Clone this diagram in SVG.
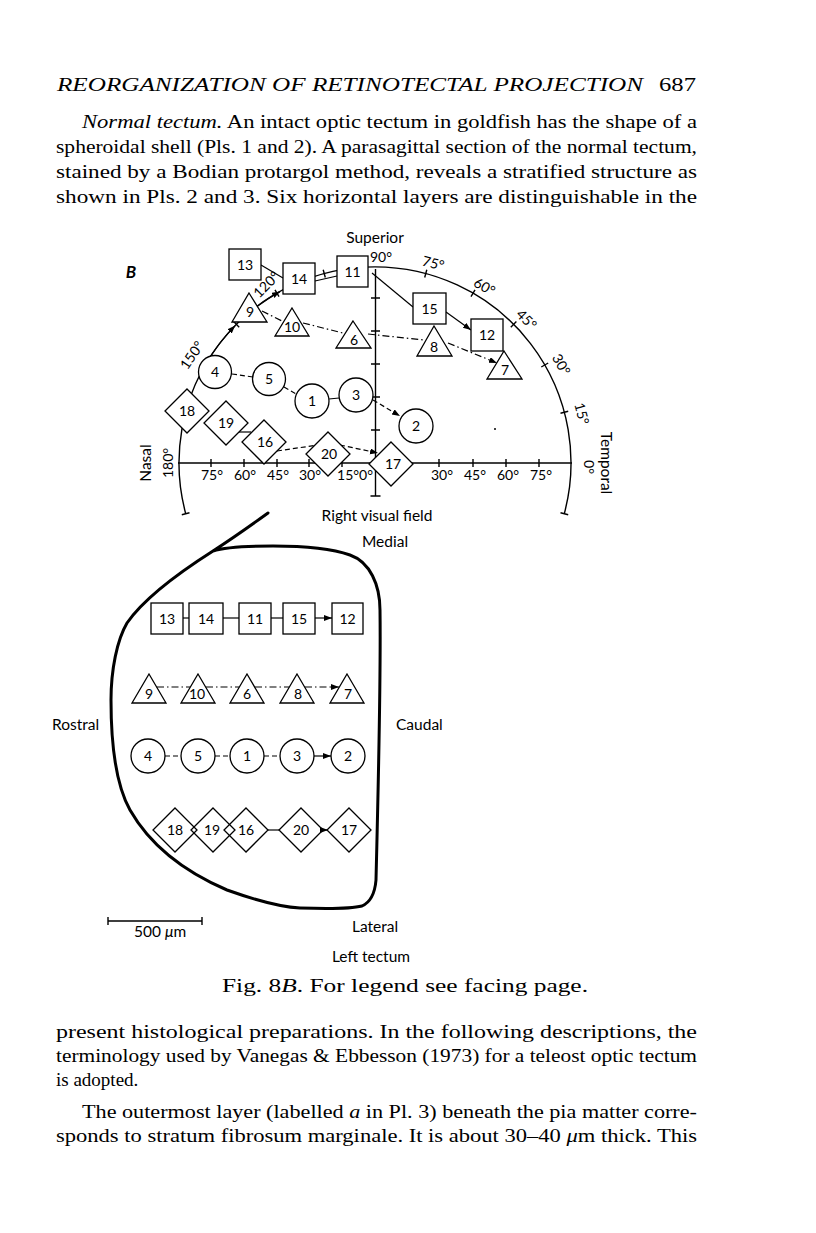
<svg xmlns="http://www.w3.org/2000/svg" width="816" height="1233" viewBox="0 0 816 1233">
<defs>
<style>
.n{fill:#fff;stroke:#000;stroke-width:1.3}
.nd{fill:none;stroke:#000;stroke-width:1.3}
.t{font-family:Lato,"DejaVu Sans",sans-serif;font-size:14px;text-anchor:middle;fill:#000}
.L{font-family:Lato,"DejaVu Sans",sans-serif;font-size:15.5px;text-anchor:middle;fill:#000}
.lb{font-family:Lato,"DejaVu Sans",sans-serif;font-size:15.5px;fill:#000}
.c{fill:none;stroke:#000;stroke-width:1.2}
.dd{stroke-dasharray:7 3 1.5 3}
.ds{stroke-dasharray:5 3}
.ax{fill:none;stroke:#000;stroke-width:1.4}
.body{font-family:"Liberation Serif","Times New Roman",serif;font-size:19px;fill:#000}
</style>
<marker id="ah" markerUnits="userSpaceOnUse" markerWidth="9" markerHeight="7" refX="8" refY="3" orient="auto">
<path d="M0,0 L8,3 L0,6 z" fill="#000"/>
</marker>
</defs>
<rect width="816" height="1233" fill="#fff"/>

<!-- page text -->
<g id="page-text">
<text class="body" x="57" y="91" font-style="italic" font-size="18" textLength="586" lengthAdjust="spacingAndGlyphs">REORGANIZATION OF RETINOTECTAL PROJECTION</text>
<text class="body" x="659" y="91" font-size="18" textLength="37" lengthAdjust="spacingAndGlyphs">687</text>
<text class="body" x="82" y="128" textLength="615" lengthAdjust="spacingAndGlyphs"><tspan font-style="italic">Normal tectum.</tspan> An intact optic tectum in goldfish has the shape of a</text>
<text class="body" x="56" y="153" textLength="641" lengthAdjust="spacingAndGlyphs">spheroidal shell (Pls. 1 and 2). A parasagittal section of the normal tectum,</text>
<text class="body" x="56" y="178" textLength="641" lengthAdjust="spacingAndGlyphs">stained by a Bodian protargol method, reveals a stratified structure as</text>
<text class="body" x="56" y="203" textLength="641" lengthAdjust="spacingAndGlyphs">shown in Pls. 2 and 3. Six horizontal layers are distinguishable in the</text>
<text class="body" x="222" y="992" font-size="16" textLength="366" lengthAdjust="spacingAndGlyphs">Fig. 8<tspan font-style="italic">B</tspan>. For legend see facing page.</text>
<text class="body" x="56" y="1038" textLength="641" lengthAdjust="spacingAndGlyphs">present histological preparations. In the following descriptions, the</text>
<text class="body" x="56" y="1062" textLength="641" lengthAdjust="spacingAndGlyphs">terminology used by Vanegas &amp; Ebbesson (1973) for a teleost optic tectum</text>
<text class="body" x="56" y="1086">is adopted.</text>
<text class="body" x="82" y="1118" textLength="615" lengthAdjust="spacingAndGlyphs">The outermost layer (labelled <tspan font-style="italic">a</tspan> in Pl. 3) beneath the pia matter corre-</text>
<text class="body" x="56" y="1142" textLength="641" lengthAdjust="spacingAndGlyphs">sponds to stratum fibrosum marginale. It is about 30–40 <tspan font-style="italic">μ</tspan>m thick. This</text>
</g>

<!-- visual field frame -->
<g id="visual-field-frame">
<text x="131" y="278" font-family="Lato,'DejaVu Sans',sans-serif" font-size="17" font-weight="bold" font-style="italic" text-anchor="middle">B</text>
<path class="ax" d="M185.7 513.7 A196 196 0 1 1 564.3 513.7"/>
<path class="ax" d="M560.5 413.3L568.2 411.2M541.3 367L548.2 363M510.8 327.2L516.4 321.6M471 296.7L475 289.8M424.7 277.5L426.8 269.8M325.3 277.5L323.2 269.8M279 296.7L275 289.8M239.2 327.2L233.6 321.6M208.7 367L201.8 363M189.5 413.3L181.8 411.2M189.5 512.7L181.8 514.8M560.5 512.7L568.2 514.8"/>
<line class="ax" x1="178" y1="463" x2="572" y2="463"/>
<line class="ax" x1="375.5" y1="269" x2="375.5" y2="496"/>
<path class="ax" d="M370.5 496H380.5M371 430H380M371 397H380M371 364H380M371 331H380M371 298H380M211 459V467M244 459V467M277 459V467M309 459V467M342 459V467M408 459V467M439 459V467M473 459V467M506 459V467M539 459V467"/>
<circle cx="495" cy="429" r="1" fill="#000"/>
<text class="L" x="375" y="243" font-size="15">Superior</text>
<text class="t" x="381" y="262">90°</text>
<text class="t" transform="translate(432,268) rotate(15)">75°</text>
<text class="t" transform="translate(482,291) rotate(30)">60°</text>
<text class="t" transform="translate(523,323) rotate(45)">45°</text>
<text class="t" transform="translate(557,367) rotate(60)">30°</text>
<text class="t" transform="translate(577,415) rotate(75)">15°</text>
<text class="t" transform="translate(584,467) rotate(90)">0°</text>
<text class="L" transform="translate(601,463) rotate(90)">Temporal</text>
<text class="t" transform="translate(270,288) rotate(-45)">120°</text>
<text class="t" transform="translate(196,358) rotate(-56)">150°</text>
<text class="L" transform="translate(151,463) rotate(-90)">Nasal</text>
<text class="t" transform="translate(173,463) rotate(-90)">180°</text>
<text class="t" x="212" y="480">75°</text>
<text class="t" x="245" y="480">60°</text>
<text class="t" x="278" y="480">45°</text>
<text class="t" x="310" y="480">30°</text>
<text class="t" x="355" y="480">15°0°</text>
<text class="t" x="442" y="480">30°</text>
<text class="t" x="475" y="480">45°</text>
<text class="t" x="508" y="480">60°</text>
<text class="t" x="541" y="480">75°</text>
<text class="L" x="377" y="521">Right visual field</text>
</g>

<!-- connectors -->
<g id="connectors">
<path class="c" d="M210.6 356.3 A196 196 0 0 1 235.2 325.6" marker-end="url(#ah)"/>
<path class="c" d="M257 306.5 A196 196 0 0 1 280 291.6" marker-end="url(#ah)"/>
<line class="c" x1="261" y1="265" x2="283" y2="278"/>
<line class="c" x1="315" y1="281" x2="337" y2="276"/>
<line class="c" x1="372" y1="273" x2="413" y2="307"/>
<line class="c" x1="446" y1="312" x2="471" y2="330" marker-end="url(#ah)"/>
<line class="c dd" x1="262" y1="311" x2="284" y2="322"/>
<line class="c dd" x1="303" y1="323" x2="343" y2="333"/>
<line class="c dd" x1="368" y1="334" x2="424" y2="340"/>
<line class="c dd" x1="448" y1="343" x2="497" y2="363" marker-end="url(#ah)"/>
<line class="c ds" x1="232" y1="374" x2="253" y2="377"/>
<line class="c ds" x1="284" y1="387" x2="298" y2="395"/>
<line class="c" x1="329" y1="399" x2="339" y2="398"/>
<line class="c ds" x1="373" y1="400" x2="400" y2="416" marker-end="url(#ah)"/>
<line class="c" x1="239" y1="432" x2="251" y2="432"/>
<line class="c ds" x1="277" y1="451" x2="318" y2="445"/>
<line class="c ds" x1="340" y1="445" x2="378" y2="453" marker-end="url(#ah)"/>
<!-- tectum connectors -->
<line class="c" x1="183" y1="618" x2="189" y2="618"/>
<line class="c" x1="223" y1="618" x2="239" y2="618"/>
<line class="c" x1="271" y1="618" x2="283" y2="618"/>
<line class="c" x1="315" y1="618" x2="332" y2="618" marker-end="url(#ah)"/>
<line class="c dd" x1="157" y1="687" x2="190" y2="687"/>
<line class="c dd" x1="206" y1="687" x2="239" y2="687"/>
<line class="c dd" x1="255" y1="687" x2="289" y2="687"/>
<line class="c dd" x1="305" y1="687" x2="339" y2="687" marker-end="url(#ah)"/>
<line class="c ds" x1="165" y1="756" x2="181" y2="756"/>
<line class="c ds" x1="215" y1="756" x2="230" y2="756"/>
<line class="c ds" x1="264" y1="756" x2="280" y2="756"/>
<line class="c" x1="314" y1="756" x2="331" y2="756" marker-end="url(#ah)"/>
<line class="c" x1="268" y1="830" x2="279" y2="830"/>
<line class="c" x1="321" y1="830" x2="328" y2="830" marker-end="url(#ah)"/>
</g>

<!-- visual field nodes -->
<g id="vf-13"><rect class="n" x="229" y="249" width="32" height="31"/><text class="t" x="245" y="270">13</text></g>
<g id="vf-14"><rect class="n" x="283" y="263" width="32" height="31"/><text class="t" x="299" y="284">14</text></g>
<g id="vf-11"><rect class="n" x="337" y="256" width="31" height="31"/><text class="t" x="352.5" y="277">11</text></g>
<g id="vf-15"><rect class="n" x="413" y="293" width="33" height="31"/><text class="t" x="429.5" y="314">15</text></g>
<g id="vf-12"><rect class="n" x="471" y="319" width="32" height="32"/><text class="t" x="487" y="340">12</text></g>
<g id="vf-9"><path class="n" d="M249 293L267 322H232z"/><text class="t" x="250" y="317">9</text></g>
<g id="vf-10"><path class="n" d="M292 308L309 336H275z"/><text class="t" x="292" y="332">10</text></g>
<g id="vf-6"><path class="n" d="M353 321L371 348H336z"/><text class="t" x="354" y="345">6</text></g>
<g id="vf-8"><path class="n" d="M434 326L452 356H417z"/><text class="t" x="434" y="352">8</text></g>
<g id="vf-7"><path class="n" d="M504 351L522 379H487z"/><text class="t" x="505" y="375">7</text></g>
<g id="vf-4"><circle class="n" cx="215" cy="372" r="16.5"/><text class="t" x="215" y="377">4</text></g>
<g id="vf-5"><circle class="n" cx="269" cy="379" r="16.5"/><text class="t" x="269" y="384">5</text></g>
<g id="vf-1"><circle class="n" cx="312" cy="401" r="17"/><text class="t" x="312" y="406">1</text></g>
<g id="vf-3"><circle class="n" cx="356" cy="395" r="17"/><text class="t" x="356" y="400">3</text></g>
<g id="vf-2"><circle class="n" cx="416" cy="426" r="17"/><text class="t" x="416" y="431">2</text></g>
<g id="vf-18"><path class="n" d="M187 389L209 411L187 433L165 411z"/><text class="t" x="187" y="416">18</text></g>
<g id="vf-19"><path class="n" d="M226 401L248 423L226 445L204 423z"/><text class="t" x="226" y="428">19</text></g>
<g id="vf-16"><path class="n" d="M264 420L286 442L264 464L242 442z"/><text class="t" x="265" y="447">16</text></g>
<g id="vf-20"><path class="n" d="M328 432L350 454L328 476L306 454z"/><text class="t" x="329" y="459">20</text></g>
<g id="vf-17"><path class="n" d="M391 442L413 464L391 486L369 464z"/><text class="t" x="393" y="469">17</text></g>

<!-- tectum -->
<g id="tectum-outline">
<path fill="none" stroke="#000" stroke-width="3" stroke-linecap="round" d="M268 513 C250 526 230 540 213 551 C180 572 145 597 127 623 C117 640 111 670 111 700 C111 745 116 785 130 810 C150 845 185 872 227 890 C255 900 280 907 300 908 C330 909 350 909 362 906 C371 902 375 892 376 880 C378 800 381 680 380 610 C380 585 370 562 350 555 C330 548 300 546 273 546 C250 546 225 547 213 551"/>
<text class="L" x="385" y="547">Medial</text>
<text class="lb" x="52" y="730">Rostral</text>
<text class="lb" x="396" y="730">Caudal</text>
<text class="L" x="375" y="932">Lateral</text>
<text class="L" x="371" y="962">Left tectum</text>
<path class="ax" d="M108 921H202M108 917V925M202 917V925"/>
<text class="lb" x="134" y="937">500 <tspan font-style="italic">μ</tspan>m</text>
</g>

<g id="t-13"><rect class="n" x="151" y="603" width="32" height="31"/><text class="t" x="167" y="624">13</text></g>
<g id="t-14"><rect class="n" x="189" y="603" width="34" height="31"/><text class="t" x="206" y="624">14</text></g>
<g id="t-11"><rect class="n" x="239" y="603" width="32" height="31"/><text class="t" x="255" y="624">11</text></g>
<g id="t-15"><rect class="n" x="283" y="603" width="32" height="31"/><text class="t" x="299" y="624">15</text></g>
<g id="t-12"><rect class="n" x="332" y="603" width="31" height="31"/><text class="t" x="347.5" y="624">12</text></g>
<g id="t-9"><path class="nd" d="M149 674L166 703H132z"/><text class="t" x="149" y="699">9</text></g>
<g id="t-10"><path class="nd" d="M198 674L215 703H181z"/><text class="t" x="197" y="699">10</text></g>
<g id="t-6"><path class="nd" d="M247 674L264 703H230z"/><text class="t" x="247" y="699">6</text></g>
<g id="t-8"><path class="nd" d="M297 674L314 703H280z"/><text class="t" x="298" y="699">8</text></g>
<g id="t-7"><path class="nd" d="M347 674L364 703H330z"/><text class="t" x="348" y="699">7</text></g>
<g id="t-4"><circle class="n" cx="148" cy="756" r="17"/><text class="t" x="148" y="761">4</text></g>
<g id="t-5"><circle class="n" cx="198" cy="756" r="17"/><text class="t" x="198" y="761">5</text></g>
<g id="t-1"><circle class="n" cx="247" cy="756" r="17"/><text class="t" x="247" y="761">1</text></g>
<g id="t-3"><circle class="n" cx="297" cy="756" r="17"/><text class="t" x="297" y="761">3</text></g>
<g id="t-2"><circle class="n" cx="348" cy="756" r="17"/><text class="t" x="348" y="761">2</text></g>
<g id="t-18"><path class="nd" d="M175 808L197 830L175 852L153 830z"/><text class="t" x="175" y="835">18</text></g>
<g id="t-19"><path class="nd" d="M213 808L235 830L213 852L191 830z"/><text class="t" x="212" y="835">19</text></g>
<g id="t-16"><path class="nd" d="M246 808L268 830L246 852L224 830z"/><text class="t" x="246" y="835">16</text></g>
<g id="t-20"><path class="nd" d="M301 808L323 830L301 852L279 830z"/><text class="t" x="301" y="835">20</text></g>
<g id="t-17"><path class="nd" d="M349 808L371 830L349 852L327 830z"/><text class="t" x="349" y="835">17</text></g>
</svg>
